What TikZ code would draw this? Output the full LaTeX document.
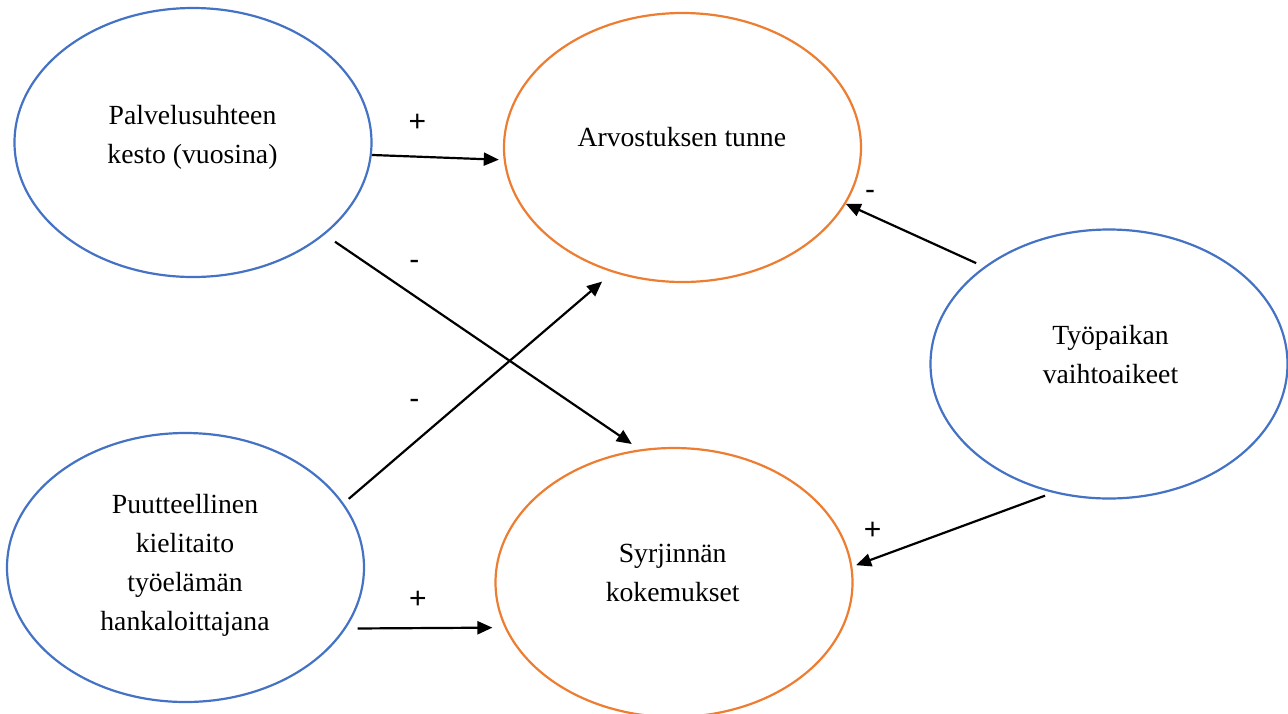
\documentclass[tikz,border=0pt]{standalone}
\usepackage{fontspec}
\setmainfont{Liberation Serif}
\setsansfont{Liberation Sans}
\usetikzlibrary{shapes.geometric, arrows.meta}

\definecolor{ovalblue}{HTML}{4472C4}
\definecolor{ovalorange}{HTML}{ED7D31}

\begin{document}
\begin{tikzpicture}[
    x=1pt, y=-1pt,
    oval/.style={ellipse, draw, line width=2.2pt, minimum width=357pt, minimum height=269pt, inner sep=0pt, outer sep=0pt},
    cause/.style={oval, draw=ovalblue},
    effect/.style={oval, draw=ovalorange},
    txt/.style={align=center, anchor=base, font=\fontsize{27.7}{39}\selectfont},
    sign/.style={anchor=base, font=\sffamily\fontsize{30}{32}\selectfont},
    arrow/.style={-{Triangle[length=15pt, width=13pt]}, line width=2.2pt},
]
    \useasboundingbox (0,0) rectangle (1288,713);

    % Ellipses
    \node[cause] (palv) at (193,142.5) {};
    \node[effect] (arvo) at (682.5,147.5) {};
    \node[cause] (tyo) at (1109,364) {};
    \node[cause] (puut) at (185.5,567.5) {};
    \node[effect] (syrj) at (674,582.5) {};

    % Texts (base = last line)
    \node[txt] (palv-t) at (192.5,163.3) {Palvelusuhteen\\kesto (vuosina)};
    \node[txt] (arvo-t) at (681.8,146.7) {Arvostuksen tunne};
    \node[txt] (tyo-t) at (1110.5,383.3) {Työpaikan\\vaihtoaikeet};
    \node[txt] (puut-t) at (185,630) {Puutteellinen\\kielitaito\\työelämän\\hankaloittajana};
    \node[txt] (syrj-t) at (672.7,601.7) {Syrjinnän\\kokemukset};

    % Connections
    \draw[arrow, shorten <=1.5pt, shorten >=6pt] (palv.-4.8) -- (arvo.184.4);
    \draw[arrow, shorten <=13.6pt, shorten >=11.2pt] (palv.-35) -- (syrj.104);
    \draw[arrow, shorten <=7.8pt, shorten >=15.3pt] (puut.22.2) -- (arvo.241.3);
    \draw[arrow, shorten <=13.1pt, shorten >=13.4pt] (puut.-21.2) -- (syrj.195.6);
    \draw[arrow, shorten <=9.8pt, shorten >=1pt] (tyo.142.5) -- (arvo.-19.5);
    \draw[arrow, shorten <=10.2pt, shorten >=5.2pt] (tyo.247.9) -- (syrj.5.4);

    % Signs
    \node[sign] (s-palv-arvo) at (417.3,131.5) {+};
    \node[sign] (s-palv-syrj) at (414.3,269) {-};
    \node[sign] (s-puut-arvo) at (414.3,408) {-};
    \node[sign] (s-puut-syrj) at (418,608.5) {+};
    \node[sign] (s-tyo-arvo) at (870,199.7) {-};
    \node[sign] (s-tyo-syrj) at (872.7,539.8) {+};
\end{tikzpicture}
\end{document}
